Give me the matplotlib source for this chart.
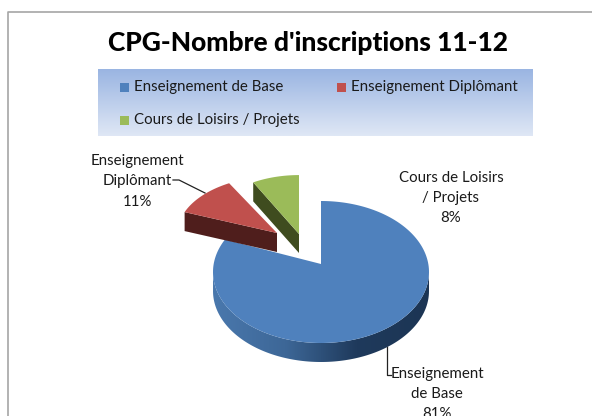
import numpy as np
import matplotlib
matplotlib.use("Agg")
import matplotlib.pyplot as plt
from matplotlib.patches import Polygon, Rectangle
from matplotlib.colors import LinearSegmentedColormap

title = "CPG-Nombre d'inscriptions 11-12"
categories = ["Enseignement de Base", "Enseignement Diplômant", "Cours de Loisirs / Projets"]
values = [81, 11, 8]
colors = ["#4f81bd", "#c0504d", "#9bbb59"]
side_colors = [None, "#4f1e1c", "#3f4c1f"]
data_labels = ["Enseignement\nde Base\n81%", "Enseignement\nDiplômant\n11%", "Cours de Loisirs\n/ Projets\n8%"]

plt.rcParams["font.family"] = ["Lato", "DejaVu Sans"]
W, H = 592, 416
fig = plt.figure(figsize=(W / 100, H / 100), dpi=100)
ax = fig.add_axes([0, 0, 1, 1])
ax.set_xlim(0, W)
ax.set_ylim(H, 0)
ax.axis("off")

# chart frame
ax.plot([8, 8, W], [H, 11.5, 11.5], color="#a6a6a6", lw=1.2, zorder=1)

ax.text(307.5, 43, title, ha="center", va="center", fontsize=19, fontweight="black",
        color="black", zorder=5)

# legend
grad = LinearSegmentedColormap.from_list("leg", ["#9ab5e2", "#dfe7f5"])
ax.imshow(np.linspace(0, 1, 64)[:, None], cmap=grad, extent=(98, 533, 136, 69),
          aspect="auto", zorder=2)
ax.set_xlim(0, W)
ax.set_ylim(H, 0)
legend_pos = [(120, 87), (337, 87), (120, 120)]
for (x, y), name, col in zip(legend_pos, categories, colors):
    ax.add_patch(Rectangle((x, y - 4.5), 9, 9, color=col, lw=0, zorder=3))
    ax.text(x + 14, y, name, ha="left", va="center", fontsize=10.8, color="#1a1a1a", zorder=4)

# pie geometry
cx, cy_ell, apex_y = 321, 272, 264
rx, ry, depth = 108, 71, 19
perspective = 1.3
explode = {1: (-44, -31), 2: (-22, -30)}
scale = {1: (0.92, 0.8), 2: (0.88, 0.83)}
fr = np.cumsum([0] + values) / sum(values)


def angles(i, n=240):
    return 2 * np.pi * np.linspace(fr[i], fr[i + 1], n)


# blue slice: gradient side wall then top
t = angles(0)
ts, tc = np.sin(t), perspective * np.cos(t)
tv = np.arctan2(ts, tc)
px, py = cx + rx * np.sin(tv), cy_ell - ry * np.cos(tv)
front = np.cos(tv) <= 0.02
wall = np.r_[np.c_[px[front], py[front]], np.c_[px[front], py[front] + depth][::-1]]
wall_patch = Polygon(wall, closed=True, fc="none", ec="none", zorder=3)
ax.add_patch(wall_patch)
side = LinearSegmentedColormap.from_list("side", ["#1c3554", "#1f3a5c", "#3d6797", "#4a78ad"])
im = ax.imshow(np.linspace(0, 1, 128)[None, :], cmap=side, extent=(cx + rx, cx - rx, apex_y + 110, apex_y),
               aspect="auto", zorder=3)
im.set_clip_path(wall_patch)
ax.set_xlim(0, W)
ax.set_ylim(H, 0)
ax.add_patch(Polygon(np.c_[np.r_[cx, px], np.r_[apex_y, py]], closed=True,
                     fc=colors[0], ec="none", zorder=4))

# exploded slices
for i in (1, 2):
    dx, dy = explode[i]
    sx, sy = scale[i]
    ax0, ay0 = cx + dx, apex_y + dy
    t = angles(i)
    px, py = ax0 + rx * sx * np.sin(t), ay0 - ry * sy * np.cos(t)
    ax.add_patch(Polygon([(ax0, ay0), (px[0], py[0]), (px[0], py[0] + depth), (ax0, ay0 + depth)],
                         closed=True, fc=side_colors[i], ec="none", zorder=5))
    ax.add_patch(Polygon(np.c_[np.r_[ax0, px], np.r_[ay0, py]], closed=True,
                         fc=colors[i], ec="none", zorder=6))

# leader lines
ax.plot([173, 179, 205], [180, 180, 193], color="#222222", lw=0.9, zorder=7)
ax.plot([387, 387, 391], [347, 374.5, 374.5], color="#222222", lw=0.9, zorder=7)

# data labels
label_pos = [(437, 394), (137, 181.5), (451, 198)]
for (x, y), s in zip(label_pos, data_labels):
    ax.text(x, y, s, ha="center", va="center", fontsize=10.8, color="#1a1a1a",
            linespacing=1.58, zorder=8)

fig.savefig("out.png", dpi=100, facecolor="white")
